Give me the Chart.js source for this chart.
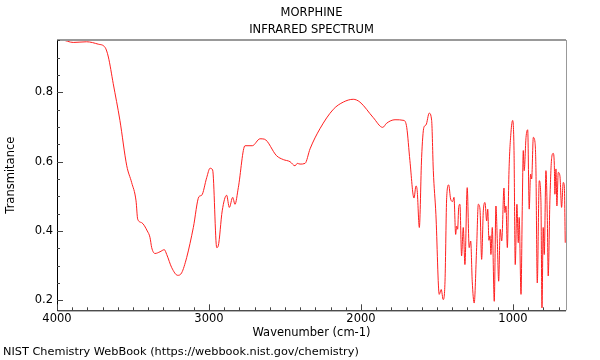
<!DOCTYPE html>
<html>
<head>
<meta charset="utf-8">
<script src="https://cdn.jsdelivr.net/npm/chart.js@4"></script>
<style>
  body { margin: 0; background: #fff; }
</style>
</head>
<body>
<canvas id="irChart" width="600" height="360"></canvas>
<script>
// wavenumber (cm-1) and transmittance
const wavenumbers = [
  3998, 3969, 3893, 3805, 3728, 3684, 3662, 3630, 3586, 3541,
  3509, 3480, 3469, 3443, 3406, 3388, 3377, 3355, 3322, 3294,
  3278, 3245, 3206, 3180, 3147, 3103, 3066, 3048, 3015, 2993,
  2976, 2949, 2939, 2913, 2884, 2866, 2844, 2829, 2807, 2763,
  2715, 2664, 2636, 2555, 2511, 2467, 2434, 2419, 2401, 2368,
  2335, 2270, 2182, 2116, 2051, 2007, 1919, 1857, 1831, 1776,
  1717, 1699, 1678, 1651, 1638, 1630, 1616, 1601, 1586, 1572,
  1551, 1535, 1524, 1507, 1485, 1472, 1459, 1447, 1436, 1423,
  1410, 1397, 1388, 1377, 1370, 1364, 1357, 1349, 1338, 1327,
  1316, 1301, 1288, 1278, 1268, 1255, 1239, 1228, 1217, 1206,
  1195, 1184, 1173, 1166, 1158, 1151, 1145, 1136, 1123, 1112,
  1103, 1094, 1084, 1074, 1059, 1053, 1046, 1037, 1026, 1013,
  1002, 993, 985, 974, 965, 959, 947, 939, 932, 926,
  914, 903, 893, 884, 877, 866, 855, 849, 840, 827,
  816, 809, 801, 794, 783, 774, 768, 757, 745, 735,
  728, 724, 717, 711, 702, 691, 680, 669, 662, 656
];
const transmittance = [
  0.949, 0.951, 0.944, 0.946, 0.939, 0.930, 0.902, 0.825, 0.719, 0.588,
  0.540, 0.487, 0.434, 0.424, 0.400, 0.381, 0.352, 0.335, 0.340, 0.346,
  0.332, 0.294, 0.272, 0.279, 0.323, 0.410, 0.499, 0.503, 0.554, 0.581,
  0.576, 0.352, 0.357, 0.458, 0.503, 0.468, 0.497, 0.477, 0.525, 0.646,
  0.646, 0.666, 0.665, 0.617, 0.606, 0.600, 0.588, 0.595, 0.593, 0.595,
  0.637, 0.695, 0.751, 0.772, 0.780, 0.772, 0.727, 0.699, 0.711, 0.721,
  0.719, 0.699, 0.603, 0.495, 0.530, 0.516, 0.410, 0.612, 0.699, 0.706,
  0.740, 0.719, 0.574, 0.448, 0.217, 0.231, 0.202, 0.255, 0.497, 0.533,
  0.492, 0.485, 0.497, 0.390, 0.414, 0.405, 0.468, 0.477, 0.328, 0.410,
  0.303, 0.525, 0.352, 0.371, 0.255, 0.192, 0.352, 0.477, 0.463, 0.318,
  0.458, 0.482, 0.429, 0.463, 0.373, 0.386, 0.332, 0.410, 0.197, 0.472,
  0.371, 0.255, 0.405, 0.371, 0.524, 0.453, 0.472, 0.352, 0.574, 0.685,
  0.719, 0.632, 0.303, 0.477, 0.366, 0.439, 0.217, 0.458, 0.632, 0.574,
  0.670, 0.692, 0.463, 0.564, 0.550, 0.670, 0.656, 0.583, 0.250, 0.545,
  0.487, 0.178, 0.410, 0.332, 0.574, 0.439, 0.270, 0.487, 0.612, 0.624,
  0.593, 0.506, 0.579, 0.472, 0.569, 0.559, 0.468, 0.540, 0.530, 0.366
];
const xTickValues = [1000, 2000, 3000, 4000];
const yTickValues = [0.2, 0.4, 0.6, 0.8];

const points = wavenumbers.map((w, i) => ({ x: w, y: transmittance[i] }));

// frame + inward tick marks like the NIST plot
const framePlugin = {
  id: "frame",
  afterDraw(chart) {
    const ctx = chart.ctx;
    const a = chart.chartArea;
    const xs = chart.scales.x;
    const ys = chart.scales.y;
    ctx.save();
    ctx.strokeStyle = "#999";
    ctx.lineWidth = 2;
    ctx.beginPath();
    ctx.moveTo(a.left, a.top);
    ctx.lineTo(a.right, a.top);
    ctx.stroke();
    ctx.lineWidth = 1;
    ctx.beginPath();
    ctx.moveTo(a.right + 0.5, a.top);
    ctx.lineTo(a.right + 0.5, a.bottom);
    ctx.stroke();

    ctx.strokeStyle = "#000";
    ctx.beginPath();
    ctx.moveTo(a.left + 0.5, a.top);
    ctx.lineTo(a.left + 0.5, a.bottom + 0.5);
    ctx.lineTo(a.right, a.bottom + 0.5);
    ctx.stroke();

    ctx.strokeStyle = "#444";
    ctx.beginPath();
    for (let v = 700; v <= 4000; v += 100) {
      const px = Math.round(xs.getPixelForValue(v)) + 0.5;
      const len = v % 1000 === 0 ? 6 : 3;
      ctx.moveTo(px, a.bottom);
      ctx.lineTo(px, a.bottom - len);
    }
    for (let k = 4; k <= 19; k++) {
      const v = k * 0.05;
      const py = Math.round(ys.getPixelForValue(v)) + 0.5;
      const len = k % 4 === 0 ? 6 : 3;
      ctx.moveTo(a.left, py);
      ctx.lineTo(a.left + len, py);
    }
    ctx.stroke();
    ctx.restore();
  }
};

Chart.defaults.font.family = "'DejaVu Sans', sans-serif";
Chart.defaults.font.size = 11.5;
Chart.defaults.color = "#000";

new Chart(document.getElementById("irChart").getContext("2d"), {
  type: "line",
  data: {
    datasets: [{
      data: points,
      borderColor: "#ff2020",
      borderWidth: 1,
      pointRadius: 0,
      cubicInterpolationMode: "monotone"
    }]
  },
  options: {
    responsive: false,
    animation: false,
    layout: { padding: { left: 3, right: 34, top: 0, bottom: 0 } },
    plugins: {
      legend: { display: false },
      tooltip: { enabled: false },
      title: {
        display: true,
        fullSize: false,
        text: ["MORPHINE", "INFRARED SPECTRUM"],
        font: { size: 11.5, weight: "normal", lineHeight: 1.48 },
        padding: { top: 4.5, bottom: 1.5 }
      },
      subtitle: {
        display: true,
        position: "bottom",
        align: "start",
        text: "NIST Chemistry WebBook (https://webbook.nist.gov/chemistry)",
        font: { size: 11.3, weight: "normal", lineHeight: 1.3 },
        padding: { top: 0, bottom: 1 }
      }
    },
    scales: {
      x: {
        type: "linear",
        reverse: true,
        min: 651,
        max: 4000,
        afterFit(scale) { scale.height = 34; },
        afterBuildTicks(scale) { scale.ticks = xTickValues.map(v => ({ value: v })); },
        grid: { display: false, drawTicks: false },
        border: { display: false },
        ticks: { padding: 2, maxRotation: 0, callback: v => String(v) },
        title: {
          display: true,
          text: "Wavenumber (cm-1)",
          padding: { top: 0, bottom: 4 }
        }
      },
      y: {
        min: 0.171,
        max: 0.951,
        afterFit(scale) { scale.width = 54; },
        afterBuildTicks(scale) { scale.ticks = yTickValues.map(v => ({ value: v })); },
        grid: { display: false, drawTicks: false },
        border: { display: false },
        ticks: { padding: 4, callback: v => v.toFixed(1) },
        title: {
          display: true,
          text: "Transmitance",
          padding: { top: 1, bottom: 0 }
        }
      }
    }
  },
  plugins: [framePlugin]
});
</script>
</body>
</html>
